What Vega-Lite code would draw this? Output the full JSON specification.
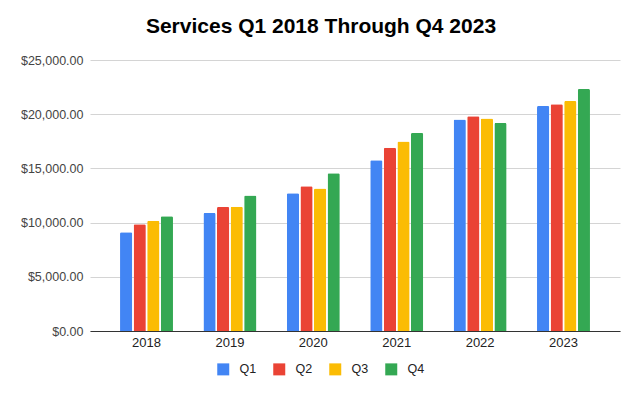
{
  "$schema": "https://vega.github.io/schema/vega-lite/v6.json",
  "width": 530,
  "height": 271,
  "autosize": "none",
  "padding": {"left": 90, "top": 60, "right": 20, "bottom": 65},
  "background": "white",
  "title": {
    "text": "Services Q1 2018 Through Q4 2023",
    "font": "Liberation Sans",
    "fontSize": 21,
    "fontWeight": "bold",
    "color": "#000000",
    "anchor": "middle",
    "dx": -34,
    "offset": 17
  },
  "data": {
    "values": [
      {"year": "2018", "quarter": "Q1", "value": 9100},
      {"year": "2018", "quarter": "Q2", "value": 9850},
      {"year": "2018", "quarter": "Q3", "value": 10170},
      {"year": "2018", "quarter": "Q4", "value": 10590},
      {"year": "2019", "quarter": "Q1", "value": 10875},
      {"year": "2019", "quarter": "Q2", "value": 11450},
      {"year": "2019", "quarter": "Q3", "value": 11455},
      {"year": "2019", "quarter": "Q4", "value": 12511},
      {"year": "2020", "quarter": "Q1", "value": 12715},
      {"year": "2020", "quarter": "Q2", "value": 13348},
      {"year": "2020", "quarter": "Q3", "value": 13156},
      {"year": "2020", "quarter": "Q4", "value": 14549},
      {"year": "2021", "quarter": "Q1", "value": 15761},
      {"year": "2021", "quarter": "Q2", "value": 16901},
      {"year": "2021", "quarter": "Q3", "value": 17486},
      {"year": "2021", "quarter": "Q4", "value": 18277},
      {"year": "2022", "quarter": "Q1", "value": 19516},
      {"year": "2022", "quarter": "Q2", "value": 19821},
      {"year": "2022", "quarter": "Q3", "value": 19604},
      {"year": "2022", "quarter": "Q4", "value": 19188},
      {"year": "2023", "quarter": "Q1", "value": 20766},
      {"year": "2023", "quarter": "Q2", "value": 20907},
      {"year": "2023", "quarter": "Q3", "value": 21213},
      {"year": "2023", "quarter": "Q4", "value": 22314}
    ]
  },
  "mark": {"type": "bar", "cornerRadiusEnd": 1.5},
  "encoding": {
    "x": {
      "field": "year",
      "type": "nominal",
      "scale": {"paddingInner": 0.365, "paddingOuter": 0.36},
      "axis": {
        "title": null,
        "labelAngle": 0,
        "labelFont": "Liberation Sans",
        "labelFontSize": 13,
        "labelColor": "#222222",
        "labelPadding": 5,
        "ticks": false,
        "domainColor": "#333333",
        "domainWidth": 1,
        "grid": false
      }
    },
    "xOffset": {
      "field": "quarter",
      "type": "nominal",
      "scale": {"paddingInner": 0.1, "paddingOuter": 0}
    },
    "y": {
      "field": "value",
      "type": "quantitative",
      "scale": {"domain": [0, 25000], "nice": false},
      "axis": {
        "title": null,
        "values": [0, 5000, 10000, 15000, 20000, 25000],
        "format": "$,.2f",
        "labelFont": "Liberation Sans",
        "labelFontSize": 12.5,
        "labelColor": "#444444",
        "labelPadding": 7,
        "ticks": false,
        "domain": false,
        "gridColor": "#d4d4d4",
        "gridWidth": 1
      }
    },
    "color": {
      "field": "quarter",
      "type": "nominal",
      "scale": {
        "domain": ["Q1", "Q2", "Q3", "Q4"],
        "range": ["#4285F4", "#EA4335", "#FBBC04", "#34A853"]
      },
      "legend": {
        "title": null,
        "orient": "none",
        "direction": "horizontal",
        "legendX": 127,
        "legendY": 303,
        "padding": 0,
        "symbolType": "square",
        "symbolSize": 144,
        "symbolStrokeWidth": 0,
        "symbolOpacity": 1,
        "labelFont": "Liberation Sans",
        "labelFontSize": 12.5,
        "labelColor": "#222222",
        "labelOffset": 10,
        "columnPadding": 16
      }
    }
  },
  "config": {
    "view": {"stroke": null}
  }
}
